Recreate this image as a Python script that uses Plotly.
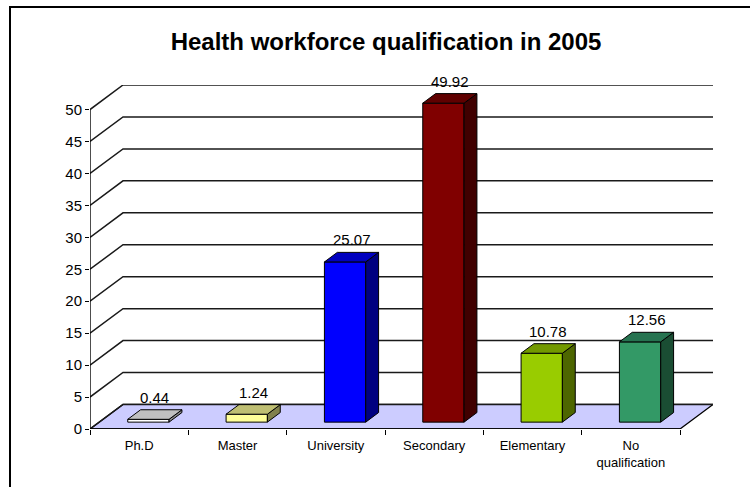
import plotly.graph_objects as go

# ---- data ----
categories = ["Ph.D", "Master", "University", "Secondary", "Elementary", "No qualification"]
tick_labels = ["Ph.D", "Master", "University", "Secondary", "Elementary", "No<br>qualification"]
values = [0.44, 1.24, 25.07, 49.92, 10.78, 12.56]
y_ticks = [0, 5, 10, 15, 20, 25, 30, 35, 40, 45, 50]
title_text = "Health workforce qualification in 2005"

# ---- styles ----
front_colors = ["#FFFFFF", "#FFFF99", "#0000FF", "#800000", "#99CC00", "#339966"]
top_colors = ["#C0C0C0", "#BFBF73", "#0000BF", "#600000", "#739900", "#267350"]
side_colors = ["#8C8C8C", "#80804D", "#000080", "#400000", "#4D6600", "#1A4D33"]
FONT = "Arial, Liberation Sans, sans-serif"

# 3D geometry (in axis units)
n = len(categories)
X0, X1 = -0.5, n - 0.5
DX = 0.3356          # depth shift along x (category units)
DY = 3.84            # depth shift along y (value units)
W = 0.42             # bar width
F0, F1 = 0.28, 0.67  # bar depth span (fraction of floor depth)
YMAX = max(y_ticks)


def pt(x, y, f):
    return x + f * DX, y + f * DY


fig = go.Figure()


def poly(points, fill, line_color="black", width=1.0):
    xs = [p[0] for p in points] + [points[0][0]]
    ys = [p[1] for p in points] + [points[0][1]]
    fig.add_trace(go.Scatter(x=xs, y=ys, mode="lines", fill="toself", fillcolor=fill,
                             line=dict(color=line_color, width=width),
                             hoverinfo="skip", showlegend=False))


def seg(x, y, color="black", width=1.3):
    fig.add_trace(go.Scatter(x=x, y=y, mode="lines", line=dict(color=color, width=width),
                             hoverinfo="skip", showlegend=False))


# floor
poly([pt(X0, 0, 0), pt(X1, 0, 0), pt(X1, 0, 1), pt(X0, 0, 1)], "#CCCCFF", width=1.3)

# gridlines (back wall + left wall)
for v in y_ticks:
    a = pt(X0, v, 0)
    b = pt(X0, v, 1)
    c = pt(X1, v, 1)
    seg([a[0], b[0], c[0]], [a[1], b[1], c[1]], color="#1a1a1a", width=1.5)

# front axes
seg([X0, X0], [0, YMAX], width=1.4)
seg([X0, X1], [0, 0], width=1.6)

# bars
for i, v in enumerate(values):
    xl, xr = i - W / 2, i + W / 2
    poly([pt(xl, 0, F0), pt(xr, 0, F0), pt(xr, v, F0), pt(xl, v, F0)], front_colors[i])
    poly([pt(xr, 0, F0), pt(xr, 0, F1), pt(xr, v, F1), pt(xr, v, F0)], side_colors[i])
    poly([pt(xl, v, F0), pt(xr, v, F0), pt(xr, v, F1), pt(xl, v, F1)], top_colors[i])
    lx, ly = pt(i, v, (F0 + F1) / 2)
    fig.add_annotation(x=lx, y=v + F1 * DY, text=f"{v:.2f}", showarrow=False,
                       yanchor="bottom", yshift=2,
                       font=dict(family=FONT, size=15, color="black"))

fig.update_layout(
    width=750, height=487,
    margin=dict(l=90, r=37, t=85, b=58),
    paper_bgcolor="white", plot_bgcolor="rgba(0,0,0,0)",
    showlegend=False,
    title=dict(text=f"<b>{title_text}</b>", x=0.5147, xanchor="center",
               y=1 - 42 / 487, yanchor="middle", yref="container",
               font=dict(family=FONT, size=24, color="black")),
    xaxis=dict(range=[X0, X1 + DX], showgrid=False, zeroline=False, showline=False,
               tickvals=list(range(n)), ticktext=tick_labels, ticks="",
               tickfont=dict(family=FONT, size=13, color="black"),
               ticklabelstandoff=7,
               minor=dict(tickvals=[X0 + k for k in range(n + 1)], ticks="outside",
                          ticklen=5, tickcolor="black", tickwidth=1.3, showgrid=False)),
    yaxis=dict(range=[0, YMAX + DY], showgrid=False, zeroline=False, showline=False,
               tickvals=y_ticks, ticks="outside", ticklen=4, tickcolor="black",
               tickwidth=1.3, tickfont=dict(family=FONT, size=15, color="black")),
    shapes=[dict(type="rect", xref="paper", yref="paper",
                 x0=(10 - 90) / 623, x1=2, y0=-1, y1=(429 - 7) / 344,
                 line=dict(color="black", width=2), fillcolor="rgba(0,0,0,0)")],
)

fig.write_html("out.html", config={"displayModeBar": False},
               post_script="document.body.style.margin='0';document.body.style.overflow='hidden';")
